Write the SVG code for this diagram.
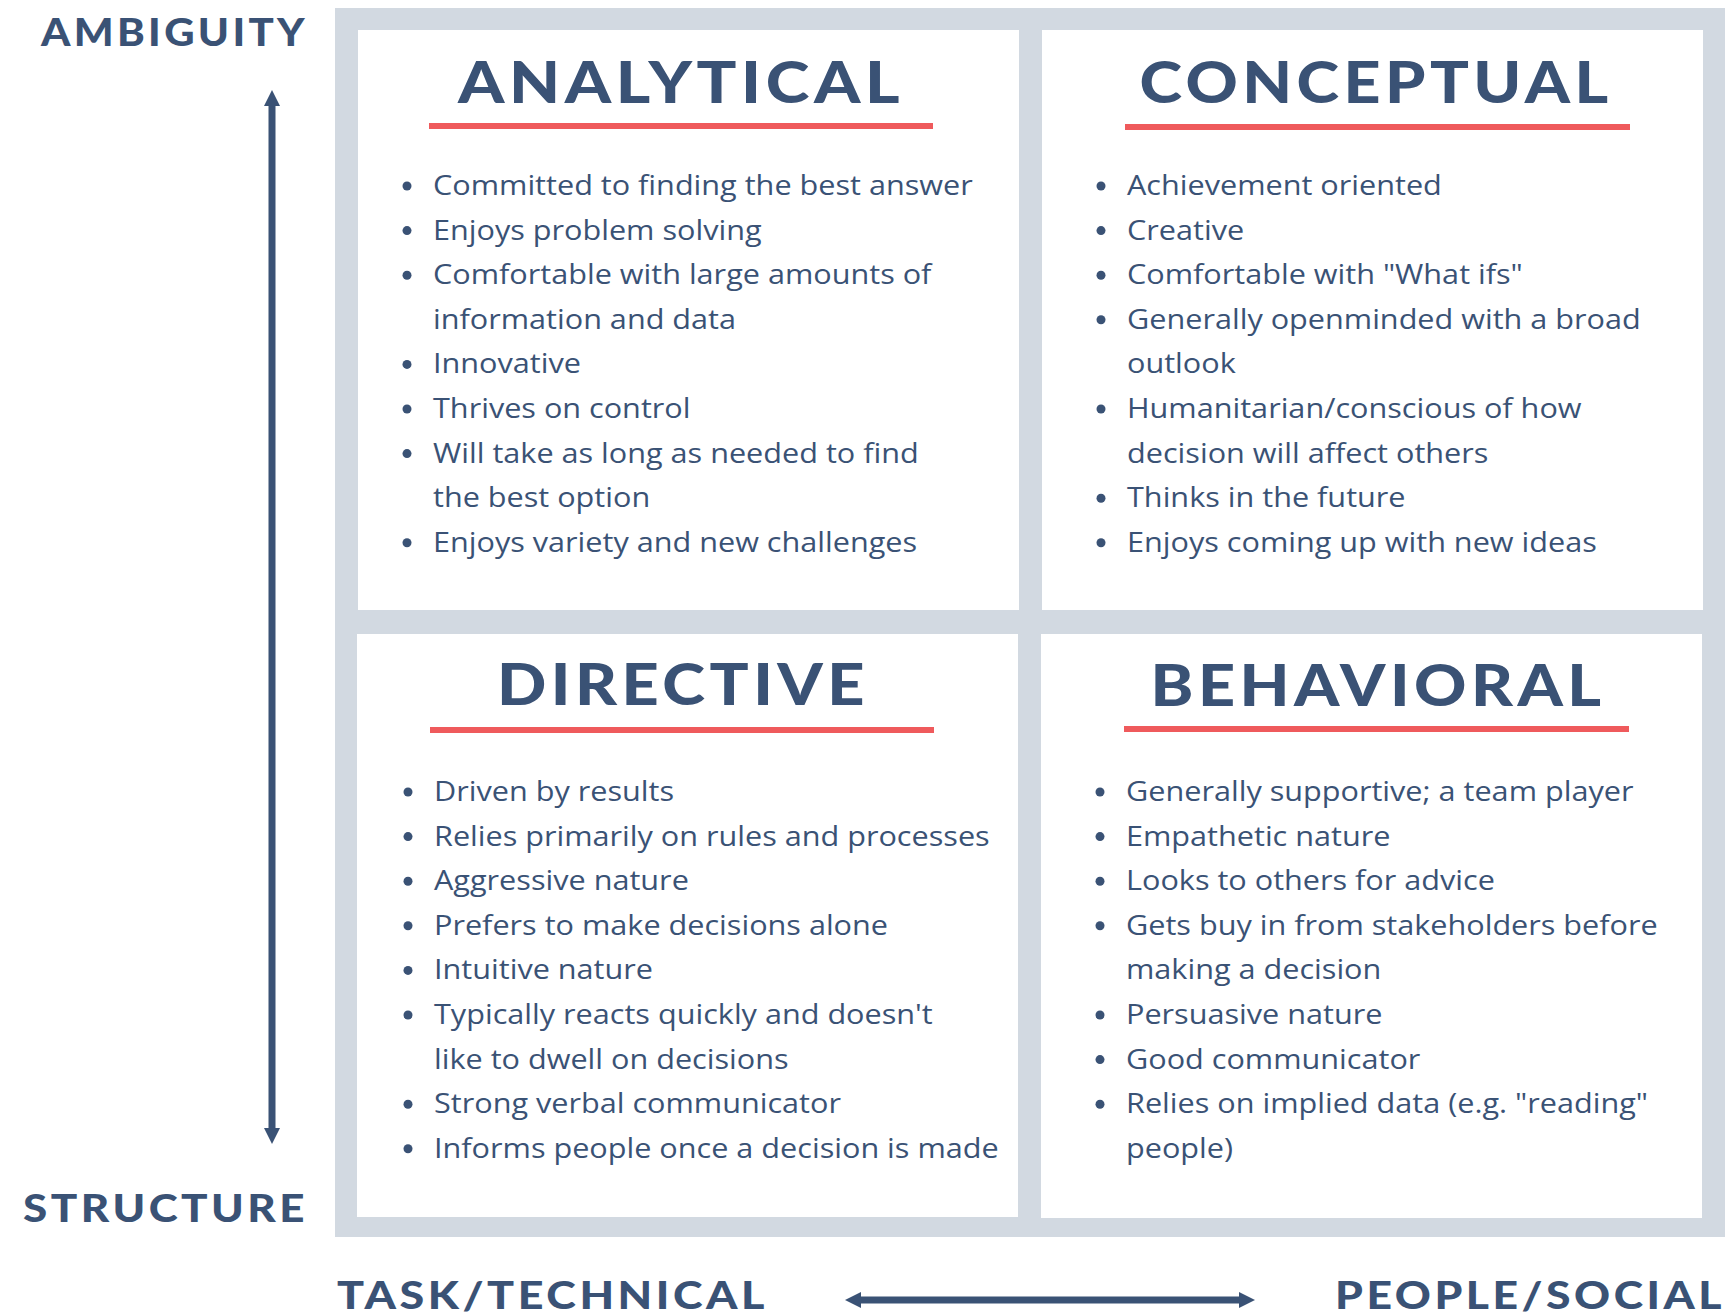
<svg xmlns="http://www.w3.org/2000/svg" width="1725" height="1314" viewBox="0 0 1725 1314">
<defs>
<style>
.h{font-family:Lato,"Noto Sans",sans-serif;font-weight:900;font-size:58px;fill:#3a5275;text-anchor:middle;letter-spacing:4px}
.ax{font-family:Lato,"Noto Sans",sans-serif;font-weight:900;font-size:38px;fill:#3a5275;letter-spacing:3px}
.b{font-family:"Open Sans","Noto Sans",sans-serif;font-size:28px;fill:#3a5275}
.ul{fill:#ef5a5c}
.q{fill:#ffffff}
.dot{fill:#3a5275}
.conn{stroke:#3a5275;stroke-width:7;fill:none}
</style>
<marker id="ah" markerUnits="userSpaceOnUse" viewBox="0 0 16 16" refX="2" refY="8" markerWidth="16" markerHeight="16" orient="auto-start-reverse">
<path d="M0,0 L16,8 L0,16 Z" fill="#3a5275"/>
</marker>
</defs>
<rect width="1725" height="1314" fill="#ffffff"/>
<g id="frame">
<rect x="335" y="8" width="1390" height="1229" fill="#d2d9e1"/>
</g>
<g id="analytical">
<rect class="q" x="358" y="30" width="661" height="580"/>
<text class="h" x="681" y="103" textLength="446" lengthAdjust="spacingAndGlyphs">ANALYTICAL</text>
<rect class="ul" x="429" y="123" width="504" height="6"/>
<g class="b" transform="translate(433,0) scale(1.094,1)">
<text x="0" y="195">Committed to finding the best answer</text>
<text x="0" y="239.6">Enjoys problem solving</text>
<text x="0" y="284.2">Comfortable with large amounts of</text>
<text x="0" y="328.8">information and data</text>
<text x="0" y="373.4">Innovative</text>
<text x="0" y="418">Thrives on control</text>
<text x="0" y="462.6">Will take as long as needed to find</text>
<text x="0" y="507.2">the best option</text>
<text x="0" y="551.8">Enjoys variety and new challenges</text>
</g>
<circle class="dot" cx="407" cy="186" r="4.5"/>
<circle class="dot" cx="407" cy="230.6" r="4.5"/>
<circle class="dot" cx="407" cy="275.2" r="4.5"/>
<circle class="dot" cx="407" cy="364.4" r="4.5"/>
<circle class="dot" cx="407" cy="409" r="4.5"/>
<circle class="dot" cx="407" cy="453.6" r="4.5"/>
<circle class="dot" cx="407" cy="542.8" r="4.5"/>
</g>
<g id="conceptual">
<rect class="q" x="1042" y="30" width="661" height="580"/>
<text class="h" x="1376" y="103" textLength="473" lengthAdjust="spacingAndGlyphs">CONCEPTUAL</text>
<rect class="ul" x="1125" y="124" width="505" height="6"/>
<g class="b" transform="translate(1127,0) scale(1.094,1)">
<text x="0" y="195">Achievement oriented</text>
<text x="0" y="239.6">Creative</text>
<text x="0" y="284.2">Comfortable with "What ifs"</text>
<text x="0" y="328.8">Generally openminded with a broad</text>
<text x="0" y="373.4">outlook</text>
<text x="0" y="418">Humanitarian/conscious of how</text>
<text x="0" y="462.6">decision will affect others</text>
<text x="0" y="507.2">Thinks in the future</text>
<text x="0" y="551.8">Enjoys coming up with new ideas</text>
</g>
<circle class="dot" cx="1101" cy="186" r="4.5"/>
<circle class="dot" cx="1101" cy="230.6" r="4.5"/>
<circle class="dot" cx="1101" cy="275.2" r="4.5"/>
<circle class="dot" cx="1101" cy="319.8" r="4.5"/>
<circle class="dot" cx="1101" cy="409" r="4.5"/>
<circle class="dot" cx="1101" cy="498.2" r="4.5"/>
<circle class="dot" cx="1101" cy="542.8" r="4.5"/>
</g>
<g id="directive">
<rect class="q" x="357" y="634" width="661" height="583"/>
<text class="h" x="683" y="705" textLength="372" lengthAdjust="spacingAndGlyphs">DIRECTIVE</text>
<rect class="ul" x="430" y="727" width="504" height="6"/>
<g class="b" transform="translate(434,0) scale(1.094,1)">
<text x="0" y="801">Driven by results</text>
<text x="0" y="845.6">Relies primarily on rules and processes</text>
<text x="0" y="890.2">Aggressive nature</text>
<text x="0" y="934.8">Prefers to make decisions alone</text>
<text x="0" y="979.4">Intuitive nature</text>
<text x="0" y="1024">Typically reacts quickly and doesn't</text>
<text x="0" y="1068.6">like to dwell on decisions</text>
<text x="0" y="1113.2">Strong verbal communicator</text>
<text x="0" y="1157.8">Informs people once a decision is made</text>
</g>
<circle class="dot" cx="408" cy="792" r="4.5"/>
<circle class="dot" cx="408" cy="836.6" r="4.5"/>
<circle class="dot" cx="408" cy="881.2" r="4.5"/>
<circle class="dot" cx="408" cy="925.8" r="4.5"/>
<circle class="dot" cx="408" cy="970.4" r="4.5"/>
<circle class="dot" cx="408" cy="1015" r="4.5"/>
<circle class="dot" cx="408" cy="1104.2" r="4.5"/>
<circle class="dot" cx="408" cy="1148.8" r="4.5"/>
</g>
<g id="behavioral">
<rect class="q" x="1041" y="634" width="661" height="584"/>
<text class="h" x="1378" y="706" textLength="455" lengthAdjust="spacingAndGlyphs">BEHAVIORAL</text>
<rect class="ul" x="1124" y="726" width="505" height="6"/>
<g class="b" transform="translate(1126,0) scale(1.094,1)">
<text x="0" y="801">Generally supportive; a team player</text>
<text x="0" y="845.6">Empathetic nature</text>
<text x="0" y="890.2">Looks to others for advice</text>
<text x="0" y="934.8">Gets buy in from stakeholders before</text>
<text x="0" y="979.4">making a decision</text>
<text x="0" y="1024">Persuasive nature</text>
<text x="0" y="1068.6">Good communicator</text>
<text x="0" y="1113.2">Relies on implied data (e.g. "reading"</text>
<text x="0" y="1157.8">people)</text>
</g>
<circle class="dot" cx="1100" cy="792" r="4.5"/>
<circle class="dot" cx="1100" cy="836.6" r="4.5"/>
<circle class="dot" cx="1100" cy="881.2" r="4.5"/>
<circle class="dot" cx="1100" cy="925.8" r="4.5"/>
<circle class="dot" cx="1100" cy="1015" r="4.5"/>
<circle class="dot" cx="1100" cy="1059.6" r="4.5"/>
<circle class="dot" cx="1100" cy="1104.2" r="4.5"/>
</g>
<g id="axis-labels">
<text class="ax" x="41" y="46" textLength="267" lengthAdjust="spacingAndGlyphs">AMBIGUITY</text>
<text class="ax" x="23" y="1222" textLength="285" lengthAdjust="spacingAndGlyphs">STRUCTURE</text>
<text class="ax" x="337" y="1309" textLength="431" lengthAdjust="spacingAndGlyphs">TASK/TECHNICAL</text>
<text class="ax" x="1335" y="1309" textLength="390" lengthAdjust="spacingAndGlyphs">PEOPLE/SOCIAL</text>
</g>
<g id="connectors">
<line class="conn" x1="272" y1="104" x2="272" y2="1130" marker-start="url(#ah)" marker-end="url(#ah)"/>
<line class="conn" x1="859" y1="1300" x2="1241" y2="1300" marker-start="url(#ah)" marker-end="url(#ah)"/>
</g>
</svg>
